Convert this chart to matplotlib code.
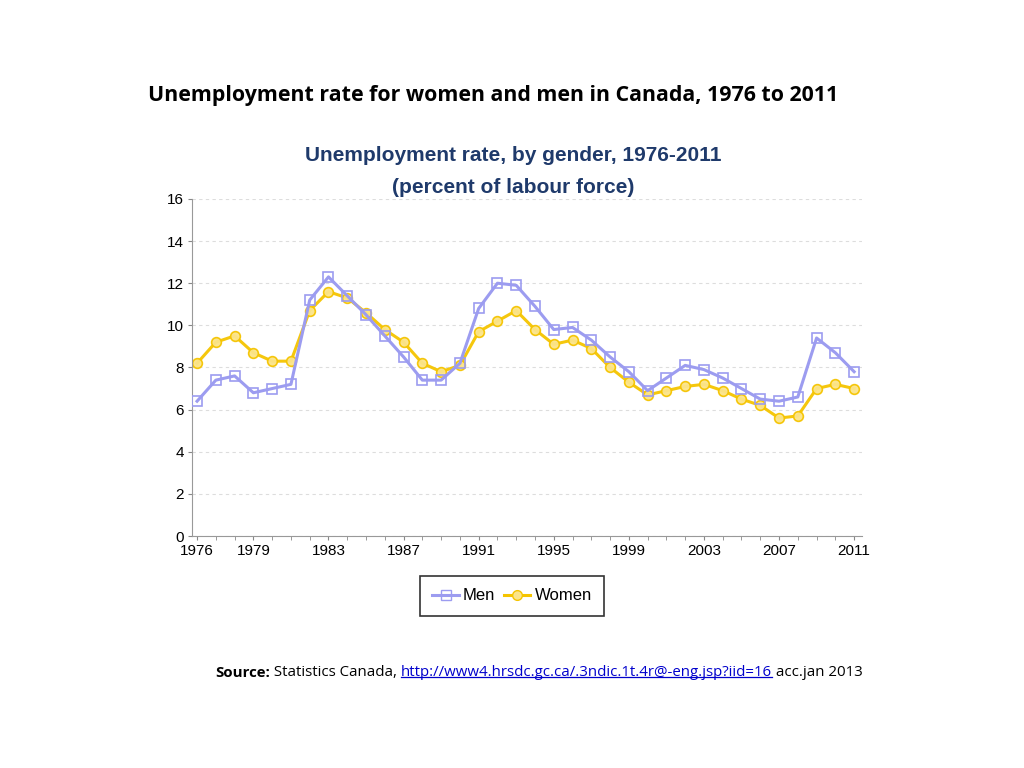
import numpy as np
import matplotlib.pyplot as plt
from matplotlib.lines import Line2D

years = list(range(1976, 2012))
men = [6.4, 7.4, 7.6, 6.8, 7.0, 7.2, 11.2, 12.3, 11.4, 10.5, 9.5, 8.5, 7.4, 7.4, 8.2, 10.8,
       12.0, 11.9, 10.9, 9.8, 9.9, 9.3, 8.5, 7.8, 6.9, 7.5, 8.1, 7.9, 7.5, 7.0, 6.5, 6.4,
       6.6, 9.4, 8.7, 7.8]
women = [8.2, 9.2, 9.5, 8.7, 8.3, 8.3, 10.7, 11.6, 11.3, 10.6, 9.8, 9.2, 8.2, 7.8, 8.1, 9.7,
         10.2, 10.7, 9.8, 9.1, 9.3, 8.9, 8.0, 7.3, 6.7, 6.9, 7.1, 7.2, 6.9, 6.5, 6.2, 5.6,
         5.7, 7.0, 7.2, 7.0]
xtick_years = [1976, 1979, 1983, 1987, 1991, 1995, 1999, 2003, 2007, 2011]
yticks = [0, 2, 4, 6, 8, 10, 12, 14, 16]

men_color = '#9c9cf0'
women_color = '#f5c400'
navy = '#1f3a6b'

fig = plt.figure(figsize=(10.24, 7.68), dpi=100)
ax = fig.add_axes([0.1875, 0.302, 0.6545, 0.439])

ax.plot(years, men, color=men_color, lw=2.2, marker='s', ms=7, mfc='none',
        mec=men_color, mew=1.2, label='Men', zorder=3)
ax.plot(years, women, color=women_color, lw=2.2, marker='o', ms=7, mfc='#fbe48a',
        mec=women_color, mew=1.2, alpha=0.95, label='Women', zorder=2)

ax.set_xlim(1975.73, 2011.43)
ax.set_ylim(0, 16)
ax.set_xticks(xtick_years)
ax.set_xticks(years, minor=True)
ax.set_yticks(yticks)
ax.tick_params(axis='both', labelsize=11, colors='#888888', labelcolor='black',
               length=3, direction='out')
ax.tick_params(axis='x', which='minor', length=3, colors='#888888')
ax.tick_params(axis='y', pad=3)
ax.tick_params(axis='x', pad=2.5)
for lab in ax.get_xticklabels() + ax.get_yticklabels():
    lab.set_family('Liberation Sans')
for s in ['top', 'right']:
    ax.spines[s].set_visible(False)
for s in ['left', 'bottom']:
    ax.spines[s].set_color('#999999')
ax.grid(axis='y', ls=(0, (3, 3)), color='#dddddd', lw=0.8)
ax.set_axisbelow(True)

fig.text(0.482, 0.876, 'Unemployment rate for women and men in Canada, 1976 to 2011',
         ha='center', va='center', fontsize=15.4, fontweight='bold', family='Open Sans')
fig.text(0.501, 0.797, 'Unemployment rate, by gender, 1976-2011', ha='center', va='center',
         fontsize=15, fontweight='bold', color=navy, family='Liberation Sans')
fig.text(0.501, 0.756, '(percent of labour force)', ha='center', va='center',
         fontsize=15, fontweight='bold', color=navy, family='Liberation Sans')

handles = [Line2D([], [], color=men_color, lw=2.2, marker='s', ms=7, mfc='none', mec=men_color),
           Line2D([], [], color=women_color, lw=2.2, marker='o', ms=7, mfc='#fbe48a', mec=women_color)]
leg = fig.legend(handles, ['Men', 'Women'], loc='center', bbox_to_anchor=(0.5, 0.224),
                 ncol=2, frameon=True, fancybox=False, handlelength=1.6,
                 handletextpad=0.25, columnspacing=0.5, borderpad=0.75,
                 prop={'family': 'Liberation Sans', 'size': 12})
leg.get_frame().set_edgecolor('black')
leg.get_frame().set_linewidth(1.2)

# source line, built piece by piece
pieces = [('Source:', 'bold', 'black', False),
          (' Statistics Canada, ', 'normal', 'black', False),
          ('http://www4.hrsdc.gc.ca/.3ndic.1t.4r@-eng.jsp?iid=16', 'normal', '#0000cc', True),
          (' acc.jan 2013', 'normal', 'black', False)]
fig.canvas.draw()
renderer = fig.canvas.get_renderer()
x = 215 / 1024
y = 1 - 673 / 768
for txt, w, c, ul in pieces:
    t = fig.text(x, y, txt, ha='left', va='center', fontsize=10.8, fontweight=w, color=c,
                 family='Open Sans')
    bb = t.get_window_extent(renderer)
    if ul:
        y0 = bb.y0 / fig.bbox.height + 0.004
        fig.add_artist(Line2D([bb.x0 / fig.bbox.width, bb.x1 / fig.bbox.width], [y0, y0],
                              color=c, lw=0.9))
    x = bb.x1 / fig.bbox.width

fig.savefig('out.png', dpi=100)
